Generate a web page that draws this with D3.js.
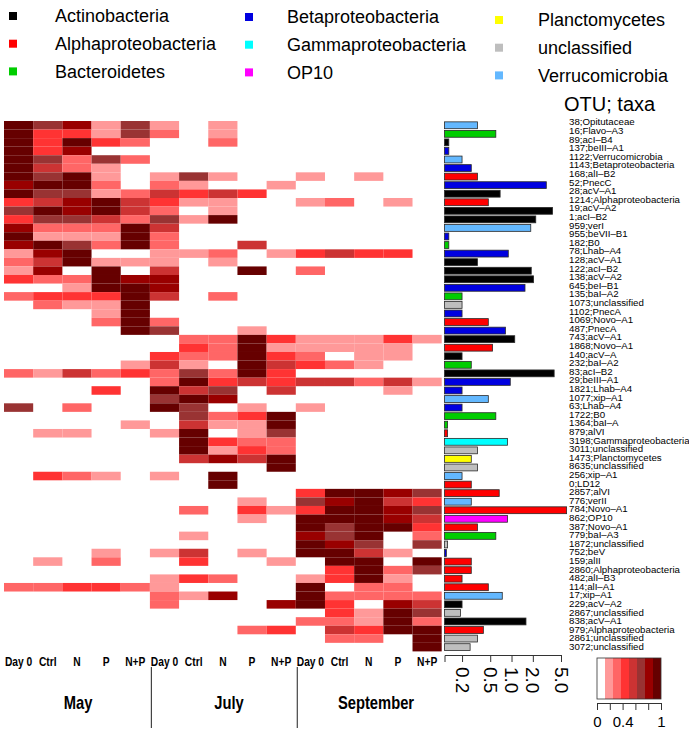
<!DOCTYPE html>
<html><head><meta charset="utf-8">
<script src="https://cdn.jsdelivr.net/npm/d3@7"></script>
<style>body{margin:0;background:#fff}svg{display:block}</style>
</head><body><svg id="c" width="689" height="734"></svg>
<script>
// ---------------- data ----------------
const months = ["May", "July", "September"];
const treatments = ["Day 0", "Ctrl", "N", "P", "N+P"];

const otuLabels = [
 "38;Opitutaceae","16;Flavo–A3","89;acI–B4","137;beIII–A1","1122;Verrucomicrobia",
 "1143;Betaproteobacteria","168;alI–B2","52;PnecC","28;acV–A1","1214;Alphaproteobacteria",
 "19;acV–A2","1;acI–B2","959;verI","955;beVII–B1","182;B0","78;Lhab–A4","128;acV–A1",
 "122;acI–B2","138;acV–A2","645;beI–B1","135;baI–A2","1073;unclassified","1102;PnecA",
 "1069;Novo–A1","487;PnecA","743;acV–A1","1868;Novo–A1","140;acV–A","232;baI–A2",
 "83;acI–B2","29;beIII–A1","1821;Lhab–A4","1077;xip–A1","63;Lhab–A4","1722;B0",
 "1364;baI–A","879;alVI","3198;Gammaproteobacteria","3011;unclassified","1473;Planctomycetes",
 "8635;unclassified","256;xip–A1","0;LD12","2857;alVI","776;verII","784;Novo–A1","862;OP10",
 "387;Novo–A1","779;baI–A3","1872;unclassified","752;beV","159;alII","2860;Alphaproteobacteria",
 "482;alI–B3","114;alI–A1","17;xip–A1","229;acV–A2","2867;unclassified","838;acV–A1",
 "979;Alphaproteobacteria","2861;unclassified","3072;unclassified"
];

const rowPhylum = [
 "Ve","Ba","Ac","Be","Ve","Be","Al","Be","Ac","Al","Ac","Ac","Ve","Be","Ba","Be","Ac","Ac","Ac","Be",
 "Ba","un","Be","Al","Be","Ac","Al","Ac","Ba","Ac","Be","Be","Ve","Be","Ba","Ba","Al","Ga","un","Pl",
 "un","Ve","Al","Al","Ve","Al","OP","Al","Ba","un","Be","Al","Al","Al","Al","Ve","Ac","un","Ac","Al",
 "un","un"
];

// mean abundance shown by the bars (log axis)
const abundance = [
 0.33,0.60,0.13,0.13,0.20,0.27,0.33,3.1,0.69,0.47,
 3.8,2.2,1.87,0.13,0.13,0.90,0.33,1.9,2.05,1.55,
 0.20,0.20,0.20,0.47,0.82,1.11,0.54,0.20,0.27,4.0,
 0.96,0.20,0.47,0.20,0.60,0.125,0.125,0.88,0.33,0.27,
 0.33,0.20,0.27,0.67,0.27,6.0,0.88,0.33,0.60,0.125,
 0.12,0.27,0.27,0.20,0.47,0.74,0.20,0.19,1.6,0.40,
 0.33,0.26
];

// relative abundance per OTU (rows) and sample (columns: May, July, September x 5 treatments)
const relAbund = [
 [.95,.7,.8,.2,.7,.2,0,.2,0,0,0,0,0,0,0],
 [.95,.45,.45,.2,.7,.3,0,.2,0,0,0,0,0,0,0],
 [.95,.45,.95,.45,.3,0,0,.3,0,0,0,0,0,0,0],
 [.95,.45,.8,0,0,0,0,0,0,0,0,0,0,0,0],
 [.95,.7,.3,.7,.3,0,0,0,0,0,0,0,0,0,0],
 [.95,.55,.3,.2,0,0,0,0,0,0,0,0,0,0,0],
 [.95,.7,.95,.2,0,.2,.7,.2,0,0,.2,0,.2,0,0],
 [.8,.95,.95,.3,0,.3,.2,0,0,.2,0,0,0,0,0],
 [.95,.7,.7,.2,.3,.55,.45,.55,.45,0,0,0,0,0,0],
 [.45,.55,.8,.95,.55,.45,.2,.2,0,0,.2,.3,0,.2,0],
 [.7,.95,.8,.95,.55,.3,0,.2,0,0,0,0,0,0,0],
 [.45,.7,.7,.55,.3,.7,.2,.95,0,0,0,0,0,0,0],
 [.8,.3,.3,.3,.95,.55,0,0,0,0,0,0,0,0,0],
 [.95,.2,.2,.2,.95,.3,0,0,0,0,0,0,0,0,0],
 [.8,.95,.7,.3,.95,.3,0,0,.55,0,0,0,0,0,0],
 [.2,.8,.95,0,0,.2,.2,.3,0,.2,.45,.55,.45,.45,0],
 [.3,.55,.95,.2,.2,.2,0,.2,0,0,0,0,0,0,0],
 [.2,.8,0,.95,0,.55,0,0,.95,0,.3,0,0,0,0],
 [.45,.3,.3,.95,.8,.8,0,0,0,0,0,0,0,0,0],
 [0,0,.2,.95,.95,.8,0,0,0,0,0,0,0,0,0],
 [.3,.45,.45,.45,.95,.55,0,.3,0,0,0,0,0,0,0],
 [0,.3,.2,.2,.95,0,0,0,0,0,0,0,0,0,0],
 [0,0,0,.2,.95,0,0,0,0,0,0,0,0,0,0],
 [0,0,0,.3,.95,.3,0,0,0,0,0,0,0,0,0],
 [0,0,0,0,.95,.7,0,0,.2,0,0,0,0,0,0],
 [0,0,0,0,0,0,.3,.3,.95,.45,.2,.2,.2,.45,.2],
 [0,0,0,0,0,0,.45,.3,.95,.2,.2,.2,.2,.2,0],
 [0,0,0,0,0,.45,.3,.3,.95,.45,.3,0,.2,.2,0],
 [0,0,0,0,.2,.55,.2,0,.95,.55,.45,.3,.2,0,0],
 [.3,.2,.55,.3,.45,.3,.7,.3,.95,.45,0,0,0,0,0],
 [0,0,0,0,0,.3,.95,.45,.55,.45,.55,.55,.3,.55,.2],
 [0,0,0,.45,0,.95,.55,.7,0,.55,0,0,0,.2,0],
 [0,0,0,0,0,.7,.95,.8,0,0,0,0,0,0,0],
 [.7,0,.3,0,0,.95,.7,0,.2,0,.2,0,0,0,0],
 [0,0,0,0,0,0,.7,.3,.45,.95,0,0,0,0,0],
 [0,0,0,0,.2,0,.55,.2,.2,.95,0,0,0,0,0],
 [0,.2,.2,0,0,.2,.95,0,.2,.7,0,0,0,0,0],
 [0,0,0,0,0,0,.95,.45,.3,.3,0,0,0,0,0],
 [0,0,0,0,0,0,.95,.2,.45,.3,0,0,0,0,0],
 [0,0,0,0,0,0,.55,.8,.55,.95,0,0,0,0,0],
 [0,0,0,0,0,0,0,0,0,.95,0,0,0,0,0],
 [0,.45,.3,.2,0,.2,0,.95,0,0,0,0,0,0,0],
 [0,0,0,0,0,0,0,.95,0,0,0,0,0,0,0],
 [0,0,0,0,0,0,0,0,0,0,.45,.95,.95,.8,.7],
 [0,0,0,0,0,0,0,0,.2,0,.7,.8,.95,.55,.45],
 [0,0,0,0,0,0,.3,0,.45,.2,.45,.95,.95,.8,.7],
 [0,0,0,0,0,0,0,0,.2,0,.95,.95,.95,.8,.55],
 [0,0,0,0,0,0,0,0,0,0,.95,.7,.95,.95,.45],
 [0,0,0,0,0,0,.2,0,0,0,.8,.7,.95,0,.3],
 [0,0,0,0,0,0,0,0,0,0,.95,.8,.7,0,.7],
 [0,0,0,.2,0,.2,.55,0,.2,0,.95,.95,.55,.2,0],
 [0,.2,0,.3,0,0,.45,0,0,.2,0,.95,.95,0,.95],
 [0,0,0,0,0,0,0,0,0,0,0,.45,.95,.3,.7],
 [0,0,0,0,0,.2,.45,.3,0,0,.2,.45,.95,.2,0],
 [.3,.3,.45,.45,.3,.2,0,0,0,0,.95,0,.3,.3,0],
 [0,0,0,0,0,.3,.2,.8,0,0,.95,.3,.3,.3,.3],
 [0,0,0,0,0,.3,0,0,0,.8,.95,.45,0,.8,.55],
 [0,0,0,0,0,0,0,0,0,0,0,.45,.2,.95,.7],
 [0,0,0,0,0,0,0,0,0,0,.3,.3,.2,.95,.3],
 [0,0,0,0,0,0,0,0,.3,.45,0,.55,.45,.95,.95],
 [0,0,0,0,0,0,0,0,0,0,0,.3,.3,0,.95],
 [0,0,0,0,0,0,0,0,0,0,0,0,0,0,.95]
];

const phyla = [
 {code:"Ac", name:"Actinobacteria",      color:"#000000"},
 {code:"Al", name:"Alphaproteobacteria", color:"#FF0000"},
 {code:"Ba", name:"Bacteroidetes",       color:"#00CD00"},
 {code:"Be", name:"Betaproteobacteria",  color:"#0000E0"},
 {code:"Ga", name:"Gammaproteobacteria", color:"#00FFFF"},
 {code:"OP", name:"OP10",                color:"#FF00FF"},
 {code:"Pl", name:"Planctomycetes",      color:"#FFFF00"},
 {code:"un", name:"unclassified",        color:"#BEBEBE"},
 {code:"Ve", name:"Verrucomicrobia",     color:"#63B8FF"}
];

const heatColors = ["#FFFFFF","#FF9999","#FF6666","#FF3333","#CC3333","#993333","#990000","#660000"];
const heatBreaks = [0.125,0.25,0.375,0.5,0.625,0.75,0.875];
const barTicks = [0.2, 0.5, 1.0, 2.0, 5.0];
const barBase = 0.113;
const keyTicks = [0, 0.2, 0.4, 0.6, 0.8, 1];
const keyTickLabels = [0, 0.4, 1];

// ---------------- drawing ----------------
const svg = d3.select("#c");
const FONT = "'Liberation Sans', Arial, Helvetica, sans-serif";
const phylumColor = new Map(phyla.map(p => [p.code, p.color]));

const colIds = [];
months.forEach(m => treatments.forEach(t => colIds.push(m + "|" + t)));
const rowIds = d3.range(otuLabels.length);

const x = d3.scaleBand().domain(colIds).range([4, 441.7]);
const y = d3.scaleBand().domain(rowIds).range([121, 651.4]);
const color = d3.scaleThreshold().domain(heatBreaks).range(heatColors);

// heatmap cells
const cells = [];
relAbund.forEach((row, i) => row.forEach((v, j) => cells.push({i, j, v})));
svg.append("g").selectAll("rect").data(cells.filter(d => d.v > 0)).join("rect")
  .attr("x", d => x(colIds[d.j]))
  .attr("y", d => y(d.i))
  .attr("width", x.bandwidth())
  .attr("height", y.bandwidth())
  .attr("fill", d => color(d.v));

// bars
const xb = d3.scaleLog().domain([barBase, 5]).range([444.5, 561]);
svg.append("g").selectAll("rect").data(abundance).join("rect")
  .attr("x", xb(barBase))
  .attr("y", (d, i) => y(i) + y.bandwidth() * 0.1)
  .attr("width", d => xb(d) - xb(barBase))
  .attr("height", y.bandwidth() * 0.8)
  .attr("fill", (d, i) => phylumColor.get(rowPhylum[i]))
  .attr("stroke", "#2a2a2a")
  .attr("stroke-width", 0.8);

// bar axis
const axB = svg.append("g").attr("transform", "translate(0,655)")
  .call(d3.axisBottom(xb).tickValues(barTicks).tickFormat(d3.format(".1f")).tickSize(7).tickSizeOuter(7));
axB.select(".domain").attr("stroke", "#333");
axB.selectAll(".tick line").attr("stroke", "#333");
axB.selectAll("text")
  .attr("transform", "rotate(90)")
  .attr("x", 12).attr("y", 0).attr("dy", "0.36em")
  .attr("text-anchor", "start")
  .attr("font-family", FONT).attr("font-size", 19).attr("fill", "#000");

// OTU labels
const yLab = d3.scaleLinear().domain([0, otuLabels.length - 1]).range([122, 646.5]);
svg.append("g").selectAll("text").data(otuLabels).join("text")
  .attr("x", 569).attr("y", (d, i) => yLab(i))
  .attr("dy", "0.35em")
  .attr("font-family", FONT).attr("font-size", 9.7)
  .text(d => d);

svg.append("text").attr("x", 564).attr("y", 104).attr("dy", "0.35em")
  .attr("font-family", FONT).attr("font-size", 20).text("OTU; taxa");

// column labels (narrow bold)
svg.append("g").selectAll("text").data(colIds).join("text")
  .attr("transform", d => `translate(${x(d) + x.bandwidth() / 2},662) scale(0.82,1)`)
  .attr("dy", "0.35em").attr("text-anchor", "middle")
  .attr("font-family", FONT).attr("font-weight", "bold").attr("font-size", 12.5)
  .text(d => d.split("|")[1]);

// month labels & separators
const monthX = [78, 229, 376];
svg.append("g").selectAll("text").data(months).join("text")
  .attr("transform", (d, i) => `translate(${monthX[i]},703) scale(0.82,1)`)
  .attr("dy", "0.35em").attr("text-anchor", "middle")
  .attr("font-family", FONT).attr("font-weight", "bold").attr("font-size", 18)
  .text(d => d);
[5, 10].forEach(k => {
  const xx = x(colIds[k]) + 1.5;
  svg.append("line").attr("x1", xx).attr("x2", xx).attr("y1", 667).attr("y2", 728)
    .attr("stroke", "#444").attr("stroke-width", 1.2);
});

// phylum legend
const legCols = [{sx: 13, tx: 55, y0: 16}, {sx: 249, tx: 287, y0: 17}, {sx: 499, tx: 538, y0: 20}];
const leg = svg.append("g");
phyla.forEach((p, k) => {
  const c = legCols[Math.floor(k / 3)], yy = c.y0 + (k % 3) * 27.7;
  leg.append("rect").attr("x", c.sx - 4).attr("y", yy - 4).attr("width", 8).attr("height", 8).attr("fill", p.color);
  leg.append("text").attr("x", c.tx).attr("y", yy).attr("dy", "0.35em")
    .attr("font-family", FONT).attr("font-size", 18).text(p.name);
});

// colour key
const xk = d3.scaleLinear().domain([0, 1]).range([597, 661]);
const key = svg.append("g");
heatColors.forEach((c, k) => {
  key.append("rect").attr("x", xk(k / heatColors.length)).attr("y", 658)
    .attr("width", xk(1 / heatColors.length) - xk(0)).attr("height", 41).attr("fill", c);
});
key.append("rect").attr("x", xk(0)).attr("y", 658).attr("width", xk(1) - xk(0)).attr("height", 41)
  .attr("fill", "none").attr("stroke", "#333").attr("stroke-width", 0.8);
const axK = svg.append("g").attr("transform", "translate(0,703)")
  .call(d3.axisBottom(xk).tickValues(keyTicks).tickSize(7).tickSizeOuter(0)
    .tickFormat(d => keyTickLabels.includes(d) ? d3.format("~g")(d) : ""));
axK.select(".domain").attr("stroke", "#333");
axK.selectAll(".tick line").attr("stroke", "#333");
axK.selectAll("text").attr("y", 13).attr("font-family", FONT).attr("font-size", 15).attr("fill", "#000");
</script></body></html>
